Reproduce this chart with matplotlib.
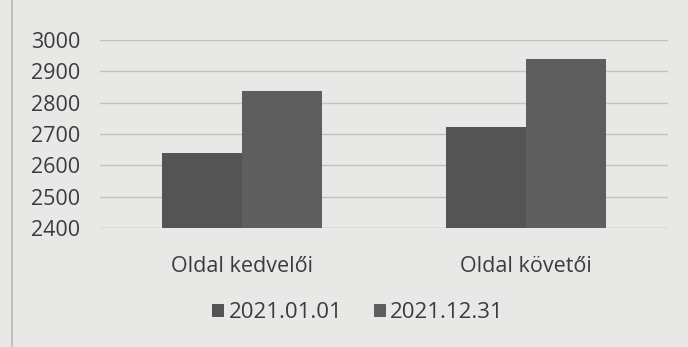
import numpy as np
import matplotlib.pyplot as plt

categories = ["Oldal kedvelői", "Oldal követői"]
series_names = ["2021.01.01", "2021.12.31"]
values_start = [2640, 2722]
values_end = [2838, 2940]
yticks = [2400, 2500, 2600, 2700, 2800, 2900, 3000]

bg = "#e8e8e6"
bar_colors = ["#545454", "#5e5e5e"]
text_color = "#3c3c3c"

plt.rcParams["font.family"] = ["Open Sans", "DejaVu Sans"]

fig = plt.figure(figsize=(6.88, 3.47), dpi=100, facecolor=bg)
ax = fig.add_axes([100 / 688, 1 - 228 / 347, 568 / 688, 188 / 347])
ax.set_facecolor(bg)

x = np.arange(len(categories))
w = 0.28
ax.bar(x - w / 2, values_start, w, color=bar_colors[0], label=series_names[0], zorder=3)
ax.bar(x + w / 2, values_end, w, color=bar_colors[1], label=series_names[1], zorder=3)

ax.set_ylim(2400, 3000)
ax.set_xlim(-0.5, 1.5)
ax.set_yticks(yticks)
ax.yaxis.grid(True, color="#c2c2c0", linewidth=1.0, zorder=0)
ax.axhline(2400, color="#c2c2c0", linewidth=1.0, zorder=1)
for s in ax.spines.values():
    s.set_visible(False)
ax.tick_params(axis="both", length=0, labelsize=15.5, colors=text_color)
ax.tick_params(axis="y", pad=14)
ax.set_xticks(x)
ax.set_xticklabels(categories)
ax.tick_params(axis="x", pad=20)

leg = fig.legend(loc="center", bbox_to_anchor=(358 / 688, 1 - 313 / 347), ncol=2,
                 frameon=False, fontsize=16, handlelength=0.55, handleheight=0.55,
                 handletextpad=0.2, columnspacing=1.4, labelcolor=text_color)

# left edge of the page frame
fig.add_artist(plt.Line2D([12 / 688, 12 / 688], [0, 1], transform=fig.transFigure,
                          color="#b8b8b6", linewidth=1.2))

fig.savefig("out.png", dpi=100, facecolor=bg)
